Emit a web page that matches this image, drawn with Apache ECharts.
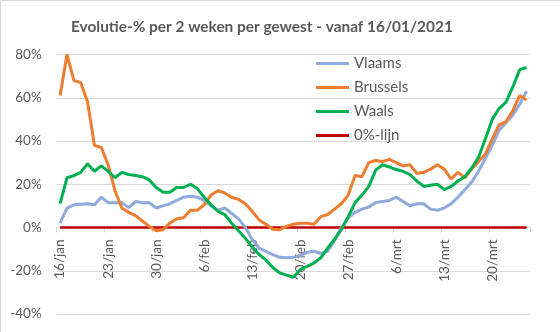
<!DOCTYPE html>
<html>
<head>
<meta charset="utf-8">
<script src="https://cdn.jsdelivr.net/npm/echarts@6/dist/echarts.min.js"></script>
<style>
html,body{margin:0;padding:0;background:#fff;}
#chart{width:560px;height:332px;}
</style>
</head>
<body>
<div id="chart"></div>
<script>
// Categories: daily dates 16/jan .. 25/mrt 2021
const months = [['jan', 16, 31], ['feb', 1, 28], ['mrt', 1, 25]];
const categories = [];
months.forEach(([m, a, b]) => { for (let d = a; d <= b; d++) categories.push(d + '/' + m); });

const vlaams = [2, 9, 10.5, 10.8, 11, 10.5, 14, 11.5, 11.5, 11.5, 9.2, 12, 11.5, 11.5, 9, 10, 11, 12.5, 14, 14.5,
  14, 12.5, 10, 8, 9, 6.5, 4, 0, -5.5, -9.5, -11, -12.5, -13.8, -14, -13.8, -13, -11.5, -11, -12, -11,
  -6, 0, 4.5, 7, 8.5, 9.5, 11.5, 12, 12.5, 14, 12, 10, 11, 11, 8.5, 8, 9, 11, 14, 17.5,
  21, 26, 32, 38, 45, 48.5, 52, 57, 63];
const brussels = [61, 80, 68, 67, 58, 38, 37, 29, 17, 9, 7, 5.5, 3, 0.5, -1.5, -1, 2, 4, 4.5, 8,
  8, 10.5, 15, 17, 16, 14, 13, 11, 7.5, 3.5, 1.5, -0.8, -1, 0.5, 1.5, 2, 2, 1.5, 5, 6,
  8.5, 11, 15, 24, 23.5, 30, 31, 30.5, 31.5, 30, 28.5, 29, 25, 25.5, 27, 29, 27, 22.5, 25.5, 23,
  27, 30.5, 34, 41, 47.5, 49, 54, 61, 59];
const waals = [11, 23, 24, 25.5, 29.5, 26, 28.5, 26, 23, 25.5, 24.5, 24, 23.5, 22, 18.5, 16.3, 16.3, 18.5, 18.5, 20,
  18, 14, 10.5, 7.5, 6, 2, -1.5, -5, -9, -12.5, -15, -18.5, -21, -22, -23, -19.5, -18, -16.5, -14, -9.5,
  -5.5, -1, 5, 11.5, 15, 19, 26.5, 29, 28, 26.8, 26, 24.5, 21.5, 19, 19.5, 20, 17.5, 19, 21.5, 23.5,
  27.5, 32.5, 41, 50, 55, 58, 65, 73, 74];
const zeroLine = categories.map(() => 0);

const seriesNames = ['Vlaams', 'Brussels', 'Waals', '0%-lijn'];
const seriesColors = ['#8FAADC', '#ED7D31', '#00B050', '#C00000'];
const seriesData = [vlaams, brussels, waals, zeroLine];

const yTicks = { min: -40, max: 80, interval: 20 };
const titleText = 'Evolutie-% per 2 weken per gewest - vanaf 16/01/2021';

const FONT = 'Lato';
const gridTop = 54.5, gridBottom = 18, plotH = 332 - gridTop - gridBottom;
const zeroOffset = plotH * (0 - yTicks.min) / (yTicks.max - yTicks.min);

const chart = echarts.init(document.getElementById('chart'), null, { renderer: 'canvas' });
chart.setOption({
  animation: false,
  backgroundColor: '#fff',
  textStyle: { fontFamily: FONT },
  title: {
    text: titleText,
    left: 66, top: 15,
    textStyle: { fontFamily: FONT, fontSize: 15.4, fontWeight: 'bold', color: '#595959' }
  },
  graphic: [
    { type: 'line', shape: { x1: 0, y1: 0.5, x2: 560, y2: 0.5 }, style: { stroke: '#D9D9D9', lineWidth: 1 } },
    { type: 'line', shape: { x1: 0.5, y1: 0, x2: 0.5, y2: 332 }, style: { stroke: '#D9D9D9', lineWidth: 1 } }
  ],
  legend: {
    orient: 'vertical',
    left: 311, top: 51,
    icon: 'rect',
    itemWidth: 33, itemHeight: 3, itemGap: 9,
    data: seriesNames,
    textStyle: { fontFamily: FONT, fontSize: 15, lineHeight: 15, height: 15, color: '#595959' }
  },
  grid: { left: 56.7, right: 30, top: gridTop, bottom: gridBottom, containLabel: false },
  xAxis: {
    type: 'category',
    data: categories,
    boundaryGap: true,
    offset: -zeroOffset,
    axisLine: { onZero: false, lineStyle: { color: '#D9D9D9', width: 1 } },
    axisTick: { show: true, interval: 6, length: 5, lineStyle: { color: '#D9D9D9' } },
    axisLabel: { interval: 6, rotate: 90, margin: 12, fontFamily: FONT, fontSize: 13.5, color: '#595959' },
    splitLine: { show: false }
  },
  yAxis: {
    type: 'value',
    min: yTicks.min, max: yTicks.max, interval: yTicks.interval,
    axisLine: { show: false },
    axisTick: { show: false },
    axisLabel: { formatter: v => v + '%', margin: 15, fontFamily: FONT, fontSize: 13.5, color: '#595959' },
    splitLine: { lineStyle: { color: '#D9D9D9', width: 1 } }
  },
  series: seriesNames.map((n, k) => ({
    name: n,
    type: 'line',
    data: seriesData[k],
    symbol: 'none',
    smooth: false,
    z: k === 3 ? 1 : 2 + k,
    color: seriesColors[k],
    lineStyle: { color: seriesColors[k], width: k === 3 ? 2.5 : 3 }
  }))
});
</script>
</body>
</html>
